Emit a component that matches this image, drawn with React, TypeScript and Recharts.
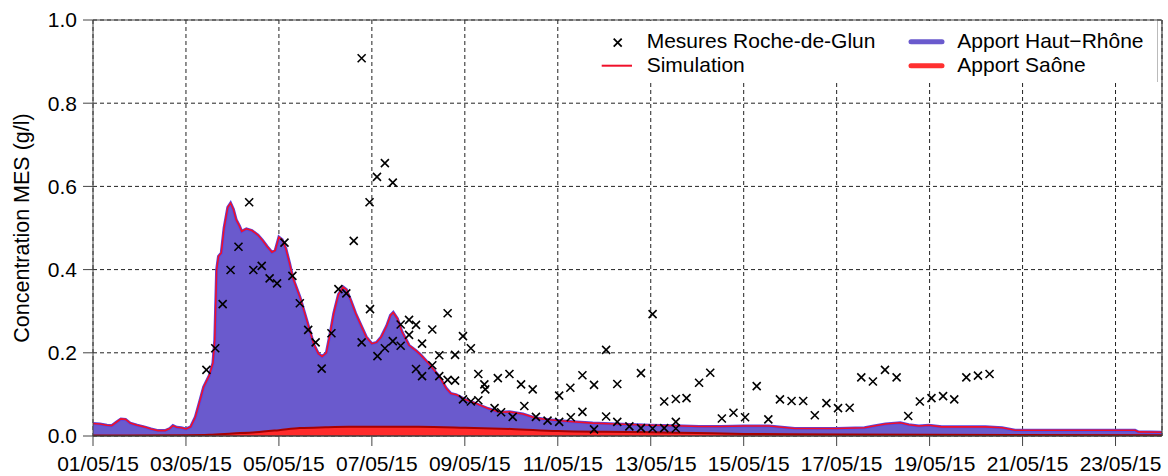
import React from 'react';
import {
  ComposedChart,
  Area,
  Line,
  Scatter,
  XAxis,
  YAxis,
  CartesianGrid,
  ReferenceLine,
  Legend,
  Label,
} from 'recharts';

// Time axis: days elapsed since 01/05/15 00:00
const xTicks = [0, 2, 4, 6, 8, 10, 12, 14, 16, 18, 20, 22];
const xTickLabels = [
  '01/05/15', '03/05/15', '05/05/15', '07/05/15', '09/05/15', '11/05/15',
  '13/05/15', '15/05/15', '17/05/15', '19/05/15', '21/05/15', '23/05/15',
];
const yTicks = [0, 0.2, 0.4, 0.6, 0.8, 1.0];

// Simulated total concentration at Roche-de-Glun (g/l)
const simTime = [
  0.0, 0.15, 0.3, 0.4, 0.5, 0.6, 0.7, 0.8, 0.95, 1.1, 1.25, 1.4, 1.55, 1.65, 1.72, 1.8, 1.9, 2.0,
  2.1, 2.2, 2.3, 2.38, 2.5, 2.58, 2.62, 2.66, 2.7, 2.76, 2.82, 2.9, 2.96, 3.02, 3.08, 3.15, 3.2,
  3.3, 3.42, 3.55, 3.65, 3.75, 3.85, 3.92, 4.0, 4.07, 4.15, 4.23, 4.3, 4.45, 4.6, 4.75, 4.85,
  4.93, 5.02, 5.1, 5.18, 5.28, 5.38, 5.45, 5.55, 5.65, 5.75, 5.88, 6.0, 6.1, 6.2, 6.32, 6.4,
  6.46, 6.55, 6.65, 6.8, 6.95, 7.05, 7.24, 7.45, 7.6, 7.7, 7.82, 8.0, 8.24, 8.5, 8.75, 8.96,
  9.25, 9.53, 9.82, 10.25, 10.75, 11.25, 12.0, 12.7, 13.04, 13.5, 14.0, 14.54, 15.1, 16.0,
  16.6, 16.8, 17.05, 17.37, 17.55, 17.77, 17.98, 18.26, 19.2, 19.56, 19.84, 22.42, 22.49, 23.0,
];
const simulation = [
  0.03, 0.029, 0.026, 0.025, 0.033, 0.041, 0.04, 0.031, 0.026, 0.022, 0.017, 0.013, 0.013, 0.018,
  0.025, 0.021, 0.02, 0.017, 0.022, 0.045, 0.085, 0.118, 0.145, 0.175, 0.23, 0.4, 0.432, 0.44,
  0.5, 0.55, 0.56, 0.545, 0.52, 0.505, 0.492, 0.498, 0.494, 0.483, 0.47, 0.455, 0.442, 0.446,
  0.478, 0.472, 0.45, 0.415, 0.38, 0.335, 0.278, 0.22, 0.198, 0.191, 0.2, 0.245, 0.295, 0.34,
  0.358, 0.352, 0.325, 0.295, 0.27, 0.238, 0.222, 0.225, 0.238, 0.265, 0.29, 0.297, 0.282, 0.25,
  0.218, 0.205, 0.195, 0.172, 0.143, 0.115, 0.102, 0.099, 0.088, 0.078, 0.066, 0.057, 0.058,
  0.053, 0.043, 0.039, 0.035, 0.031, 0.029, 0.026, 0.024, 0.023, 0.023, 0.024, 0.024, 0.018,
  0.018, 0.02, 0.024, 0.029, 0.032, 0.027, 0.024, 0.026, 0.022, 0.022, 0.02, 0.014, 0.014, 0.01,
  0.009,
];

// Saône contribution (g/l)
const saoneTime = [0, 2.0, 2.5, 3.0, 3.5, 4.0, 4.45, 5.0, 5.5, 6.5, 7.0, 8.0, 9.0, 10.0, 11.0, 12.0, 13.0, 14.0, 15.0, 18.0, 23.0];
const saone = [0.001, 0.002, 0.003, 0.006, 0.009, 0.014, 0.019, 0.021, 0.022, 0.022, 0.022, 0.02, 0.017, 0.012, 0.01, 0.009, 0.007, 0.005, 0.004, 0.003, 0.002];

// Measurements at Roche-de-Glun: [day, g/l]
const mesures: [number, number][] = [
  [2.44, 0.159], [2.63, 0.211], [2.79, 0.317], [2.96, 0.399], [3.13, 0.455], [3.36, 0.562],
  [3.45, 0.399], [3.63, 0.409], [3.8, 0.379], [3.96, 0.367], [4.12, 0.465], [4.29, 0.385],
  [4.45, 0.319], [4.63, 0.255], [4.79, 0.225], [4.92, 0.162], [5.13, 0.247], [5.28, 0.353],
  [5.45, 0.343], [5.61, 0.469], [5.78, 0.908], [5.78, 0.225], [5.95, 0.562], [5.96, 0.305],
  [6.11, 0.623], [6.12, 0.192], [6.28, 0.656], [6.28, 0.211], [6.45, 0.609], [6.45, 0.228],
  [6.62, 0.217], [6.62, 0.268], [6.8, 0.279], [6.8, 0.243], [6.95, 0.267], [6.95, 0.161],
  [7.08, 0.144], [7.08, 0.222], [7.3, 0.256], [7.3, 0.17], [7.45, 0.194], [7.45, 0.144],
  [7.63, 0.295], [7.63, 0.135], [7.79, 0.195], [7.79, 0.133], [7.96, 0.24], [7.96, 0.088],
  [8.13, 0.211], [8.13, 0.083], [8.29, 0.149], [8.29, 0.086], [8.42, 0.124], [8.44, 0.112],
  [8.64, 0.067], [8.71, 0.139], [8.78, 0.057], [8.96, 0.149], [9.03, 0.046], [9.21, 0.124],
  [9.28, 0.072], [9.46, 0.112], [9.53, 0.046], [9.78, 0.037], [10.03, 0.097], [10.03, 0.034],
  [10.27, 0.116], [10.28, 0.045], [10.53, 0.146], [10.53, 0.058], [10.78, 0.123], [10.78, 0.016],
  [11.04, 0.207], [11.04, 0.047], [11.28, 0.125], [11.28, 0.034], [11.54, 0.023], [11.79, 0.151],
  [11.79, 0.019], [12.04, 0.293], [12.04, 0.018], [12.29, 0.083], [12.29, 0.019], [12.54, 0.089],
  [12.54, 0.034], [12.54, 0.018], [12.77, 0.091], [13.04, 0.128], [13.28, 0.152], [13.53, 0.042],
  [13.78, 0.056], [14.03, 0.045], [14.28, 0.12], [14.53, 0.04], [14.78, 0.088], [15.03, 0.084],
  [15.28, 0.084], [15.53, 0.05], [15.78, 0.079], [16.03, 0.067], [16.28, 0.068], [16.53, 0.141],
  [16.78, 0.131], [17.04, 0.159], [17.29, 0.141], [17.54, 0.048], [17.79, 0.083], [18.04, 0.091],
  [18.29, 0.096], [18.53, 0.088], [18.79, 0.141], [19.04, 0.145], [19.29, 0.149],
];

const simData = simTime.map((t, i) => ({ t, simulation: simulation[i] }));
const saoneData = saoneTime.map((t, i) => ({ t, saone: saone[i] }));
const mesData = mesures.map(([t, v]) => ({ t, mesure: v }));

const FONT = '"Liberation Sans", Arial, Helvetica, sans-serif';
const PURPLE = '#6a5acd';
const RED_FILL = '#ff2b2b';
const SIM_RED = '#f0102a';

const Cross = (props: any) => {
  const { cx, cy } = props;
  if (cx == null || cy == null) return null;
  const s = 4;
  return (
    <path
      d={`M${cx - s},${cy - s}L${cx + s},${cy + s}M${cx - s},${cy + s}L${cx + s},${cy - s}`}
      stroke="#000"
      strokeWidth={1.6}
      fill="none"
    />
  );
};

const LegendBox = () => (
  <svg width={570} height={61} style={{ display: 'block', background: '#fff', fontFamily: FONT }}>
    <line x1={569.5} y1={0} x2={569.5} y2={61} stroke="#bbb" strokeWidth={1} />
    <path d="M25.7,17.7L33.7,25.7M25.7,25.7L33.7,17.7" stroke="#000" strokeWidth={1.8} fill="none" />
    <text x={58.7} y={27.3} fontSize={21} fill="#000">Mesures Roche-de-Glun</text>
    <line x1={13.7} y1={44.7} x2={44} y2={44.7} stroke={SIM_RED} strokeWidth={2} />
    <text x={58.7} y={51.3} fontSize={21} fill="#000">Simulation</text>
    <line x1={323} y1={20.7} x2={354} y2={20.7} stroke={PURPLE} strokeWidth={5} strokeLinecap="round" />
    <text x={369.3} y={27.3} fontSize={21} fill="#000">Apport Haut−Rhône</text>
    <line x1={323} y1={44.7} x2={354} y2={44.7} stroke="#ff3030" strokeWidth={5} strokeLinecap="round" />
    <text x={369.3} y={51.3} fontSize={21} fill="#000">Apport Saône</text>
  </svg>
);

const YTitle = (props: any) => {
  const vb = props.viewBox || { x: 0, y: 20, width: 93, height: 416 };
  const x = vb.x + 22;
  const y = vb.y + vb.height / 2;
  return (
    <text
      x={x}
      y={y}
      transform={`rotate(-90 ${x} ${y})`}
      textAnchor="middle"
      dominantBaseline="central"
      fontSize={21.5}
      fontFamily={FONT}
      fill="#000"
    >
      Concentration MES (g/l)
    </text>
  );
};

export default function App() {
  return (
    <div style={{ position: 'absolute', left: 0, top: 0, width: 1168, height: 476, background: '#fff' }}>
      <ComposedChart
        width={1168}
        height={476}
        data={simData}
        margin={{ top: 20, right: 6, left: 0, bottom: 0 }}
        style={{ fontFamily: FONT }}
      >
        <CartesianGrid stroke="#222" strokeDasharray="4 3" strokeWidth={1} />
        <XAxis
          dataKey="t"
          type="number"
          domain={[0, 23]}
          allowDataOverflow
          ticks={xTicks}
          tickFormatter={(v: number) => xTickLabels[xTicks.indexOf(v)] ?? ''}
          height={40}
          tickSize={10}
          tickMargin={10}
          interval={0}
          stroke="#444"
          tick={{ fill: '#000', fontSize: 21, fontFamily: FONT, dx: 5 }}
        />
        <YAxis
          type="number"
          domain={[0, 1]}
          allowDataOverflow
          ticks={yTicks}
          tickFormatter={(v: number) => v.toFixed(1)}
          width={93}
          tickSize={10}
          tickMargin={6}
          interval={0}
          stroke="#444"
          tick={{ fill: '#000', fontSize: 21, fontFamily: FONT }}
        >
          <Label content={<YTitle />} />
        </YAxis>
        <Area
          dataKey="simulation"
          type="linear"
          fill={PURPLE}
          fillOpacity={1}
          stroke="#5546e6"
          strokeWidth={3}
          isAnimationActive={false}
          legendType="none"
        />
        <Area
          data={saoneData}
          dataKey="saone"
          type="monotone"
          fill={RED_FILL}
          fillOpacity={1}
          stroke="#a80000"
          strokeWidth={2}
          isAnimationActive={false}
          legendType="none"
        />
        <Line
          dataKey="simulation"
          type="linear"
          stroke={SIM_RED}
          strokeWidth={1.6}
          dot={false}
          activeDot={false}
          isAnimationActive={false}
          legendType="none"
        />
        <Scatter
          data={mesData}
          dataKey="mesure"
          shape={<Cross />}
          isAnimationActive={false}
          legendType="none"
        />
        <ReferenceLine y={1} stroke="#444" strokeWidth={1.2} ifOverflow="extendDomain" />
        <ReferenceLine x={23} stroke="#444" strokeWidth={1.2} ifOverflow="extendDomain" />
        <ReferenceLine y={0} stroke="#333" strokeWidth={1.2} />
        <Legend
          layout="horizontal"
          verticalAlign="middle"
          align="center"
          content={<LegendBox />}
          wrapperStyle={{ left: 588, top: 21, width: 570, height: 61, margin: 0, padding: 0 }}
        />
      </ComposedChart>
    </div>
  );
}
